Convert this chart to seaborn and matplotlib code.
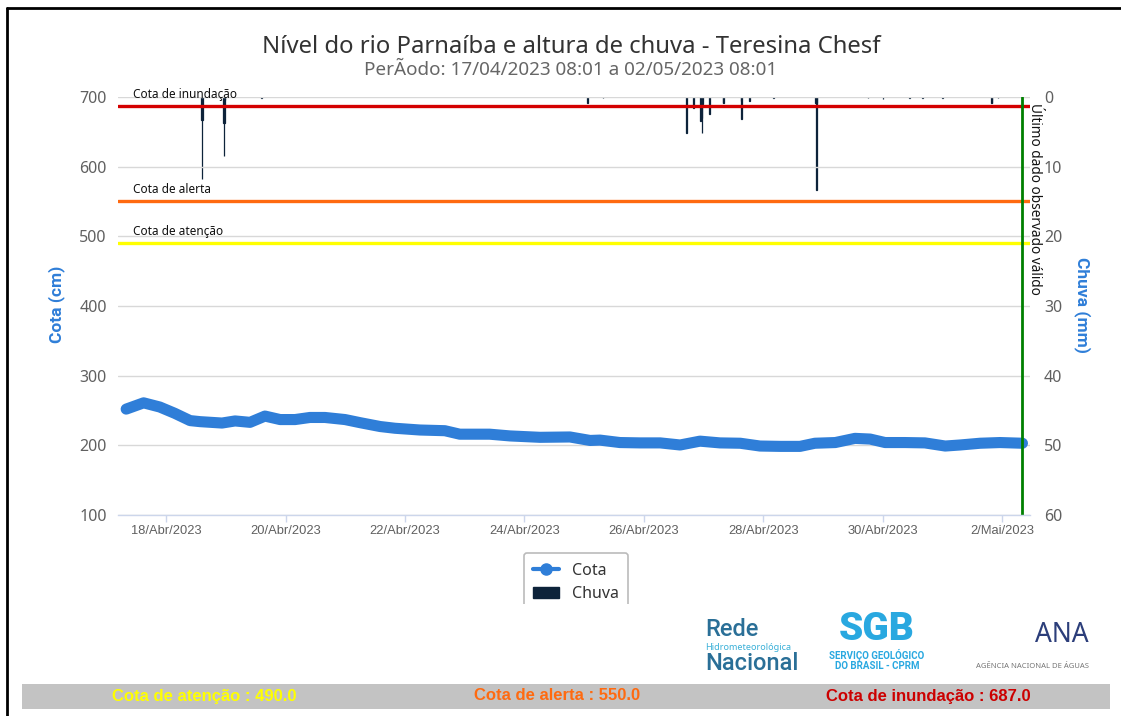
import matplotlib
matplotlib.use("Agg")
import matplotlib.pyplot as plt
from matplotlib.lines import Line2D
from matplotlib.patches import Patch, Rectangle
import pandas as pd
import seaborn as sns

# Cota (cm) ao longo do periodo
cota_times = ["2023-04-17 08:00", "2023-04-17 15:00", "2023-04-17 21:30", "2023-04-18 03:30",
              "2023-04-18 09:40", "2023-04-18 13:40", "2023-04-18 22:30", "2023-04-19 03:45",
              "2023-04-19 09:45", "2023-04-19 15:45", "2023-04-19 21:50", "2023-04-20 03:50",
              "2023-04-20 09:50", "2023-04-20 15:50", "2023-04-20 23:55", "2023-04-21 06:00",
              "2023-04-21 14:00", "2023-04-21 20:00", "2023-04-22 06:00", "2023-04-22 16:00",
              "2023-04-22 22:00", "2023-04-23 10:00", "2023-04-23 18:10", "2023-04-24 06:15",
              "2023-04-24 18:15", "2023-04-25 02:20", "2023-04-25 06:20", "2023-04-25 14:20",
              "2023-04-25 22:20", "2023-04-26 06:30", "2023-04-26 14:30", "2023-04-26 22:30",
              "2023-04-27 06:30", "2023-04-27 14:40", "2023-04-27 22:35", "2023-04-28 06:40",
              "2023-04-28 14:40", "2023-04-28 20:40", "2023-04-29 04:50", "2023-04-29 12:45",
              "2023-04-29 18:50", "2023-04-30 00:50", "2023-04-30 08:50", "2023-04-30 16:50",
              "2023-05-01 01:00", "2023-05-01 07:00", "2023-05-01 15:00", "2023-05-01 23:00",
              "2023-05-02 08:01"]
cota_values = [252, 261, 255, 246, 235.5, 234, 232, 235, 233, 242,
               237, 237, 240, 240, 237, 232.5, 227, 224.5, 222, 221,
               216, 216, 213.5, 211.5, 212, 207, 207.5, 204, 203.5, 203.5,
               200.5, 206, 203.5, 203, 199, 198.5, 198.5, 203, 204, 210,
               209, 204, 204, 203.5, 199, 200.5, 203, 204, 203]

# Chuva (mm)
chuva_times = ["2023-04-18 14:15", "2023-04-18 14:30", "2023-04-18 14:45",
               "2023-04-18 23:00", "2023-04-18 23:15", "2023-04-18 23:30", "2023-04-18 23:45",
               "2023-04-19 14:30", "2023-04-25 01:15", "2023-04-25 07:30",
               "2023-04-26 17:10", "2023-04-26 19:45", "2023-04-26 22:45", "2023-04-26 23:00",
               "2023-04-26 23:15", "2023-04-26 23:30", "2023-04-27 02:15", "2023-04-27 07:45",
               "2023-04-27 08:00", "2023-04-27 15:00", "2023-04-27 15:15", "2023-04-27 18:30",
               "2023-04-28 04:00", "2023-04-28 21:00", "2023-04-28 21:15", "2023-04-28 21:30",
               "2023-04-29 18:00", "2023-04-30 00:00", "2023-04-30 10:45", "2023-04-30 16:00",
               "2023-05-01 00:00", "2023-05-01 19:30", "2023-05-01 19:45", "2023-05-01 22:15"]
chuva_values = [3.3, 11.7, 3.3,
                3.7, 8.4, 3.7, 0.5,
                0.2, 0.9, 0.2,
                5.2, 1.6, 3.5, 3.0,
                5.2, 1.0, 2.5, 0.9,
                0.8, 0.6, 3.1, 0.6,
                0.2, 0.8, 13.3, 0.8,
                0.2, 0.3, 0.2, 0.2,
                0.2, 0.9, 0.9, 0.2]

cotas_ref = [490.0, 550.0, 687.0]
cotas_nome = ["Cota de atenção", "Cota de alerta", "Cota de inundação"]
cotas_cor = ["#ffff00", "#ff6a10", "#d40000"]
texto_cor = ["#ffff00", "#ff6a10", "#cc0000"]

tick_dates = ["2023-04-18", "2023-04-20", "2023-04-22", "2023-04-24",
              "2023-04-26", "2023-04-28", "2023-04-30", "2023-05-02"]
tick_labels = ["18/Abr/2023", "20/Abr/2023", "22/Abr/2023", "24/Abr/2023",
               "26/Abr/2023", "28/Abr/2023", "30/Abr/2023", "2/Mai/2023"]
ultimo_dado = "2023-05-02 08:01"

df_cota = pd.DataFrame({"Data": pd.to_datetime(cota_times), "Cota": cota_values})
df_chuva = pd.DataFrame({"Data": pd.to_datetime(chuva_times), "Chuva": chuva_values})

sns.set_theme(style="white")
plt.rcParams['font.family'] = ['Noto Sans', 'DejaVu Sans']

W, H = 1121, 716
def fx(px):
    return px / W
def fy(py):
    return 1 - py / H

azul = "#2f7ed8"
negrito = ["Roboto", "DejaVu Sans"]
fig = plt.figure(figsize=(11.21, 7.16), dpi=100)
ax = fig.add_axes([fx(118), fy(515), fx(1030) - fx(118), fy(97) - fy(515)])
ax2 = ax.twinx()
ax.set_zorder(ax2.get_zorder() + 1)
ax.patch.set_visible(False)

# chuva (eixo direito invertido)
ax2.bar(df_chuva["Data"], df_chuva["Chuva"], width=0.012, color="#0d233a",
        edgecolor="#0d233a", linewidth=0.9, align="center")
ax2.set_ylim(60, 0)
ax2.set_yticks(range(0, 61, 10))
ax2.tick_params(axis="y", length=0, pad=10, labelsize=11.5, labelcolor="#606060")
ax2.grid(False)

# cota
sns.lineplot(data=df_cota, x="Data", y="Cota", ax=ax, color=azul, linewidth=8,
             solid_capstyle="round", solid_joinstyle="round")
ax.set_ylim(100, 700)
ax.set_yticks(range(100, 701, 100))
ax.set_xlim(pd.Timestamp("2023-04-17 04:43"), pd.Timestamp("2023-05-02 11:03"))
ax.set_xticks(pd.to_datetime(tick_dates))
ax.set_xticklabels(tick_labels, fontfamily=["Liberation Sans", "DejaVu Sans"])
ax.tick_params(axis="x", length=5, width=1, color="#ccd6eb", pad=2, labelsize=9.3,
               labelcolor="#606060", bottom=True)
ax.tick_params(axis="y", length=0, pad=8, labelsize=11.5, labelcolor="#606060")
ax.grid(axis="y", color="#d8d8d8", linewidth=1)
ax.grid(axis="x", visible=False)
ax.set_xlabel("")
ax.set_ylabel("")
for sp in ["top", "left", "right"]:
    ax.spines[sp].set_visible(False)
    ax2.spines[sp].set_visible(False)
ax2.spines["bottom"].set_visible(False)
ax.spines["bottom"].set_color("#ccd6eb")
ax.spines["bottom"].set_linewidth(1)

# cotas de referencia
for val, nome, cor in zip(cotas_ref, cotas_nome, cotas_cor):
    ax.axhline(val, color=cor, linewidth=2.4)
    ax.annotate(nome, xy=(0, val), xycoords=("axes fraction", "data"),
                xytext=(11, 4), textcoords="offset points", ha="left", va="bottom",
                fontsize=8.5, color="#111111", annotation_clip=False)

# ultimo dado valido
t_ult = pd.Timestamp(ultimo_dado)
ax.axvline(t_ult, color="#008000", linewidth=2)
ax.annotate("Último dado observado válido", xy=(t_ult, 692), xycoords="data",
            xytext=(3, 0), textcoords="offset points", rotation=270,
            ha="left", va="top", fontsize=9.8, color="#111111")

# titulos
fig.text(fx(571), fy(47), "Nível do rio Parnaíba e altura de chuva - Teresina Chesf",
         ha="center", va="center", fontsize=17.2, color="#333333")
fig.text(fx(571), fy(70), "PerÃodo: 17/04/2023 08:01 a 02/05/2023 08:01",
         ha="center", va="center", fontsize=13.6, color="#666666")
fig.text(fx(57), fy(304), "Cota (cm)", rotation=90, ha="center", va="center",
         fontsize=12.5, color=azul, fontweight="bold", fontfamily=negrito)
fig.text(fx(1082), fy(305), "Chuva (mm)", rotation=270, ha="center", va="center",
         fontsize=12.5, color=azul, fontweight="bold", fontfamily=negrito)

# legenda
handles = [Line2D([0], [0], color=azul, lw=3, marker="o", markersize=8),
           Patch(facecolor="#0d233a", edgecolor="#0d233a")]
leg = fig.legend(handles, ["Cota", "Chuva"], loc="upper center",
                 bbox_to_anchor=(fx(576), fy(545)), frameon=True, fancybox=True,
                 fontsize=11.5, labelcolor="#333333", handlelength=1.6,
                 borderpad=0.6, labelspacing=0.45, edgecolor="#aaaaaa")
leg.get_frame().set_linewidth(1.2)
fig.patches.append(Rectangle((fx(515), fy(614)), fx(125), fy(604) - fy(614),
                             transform=fig.transFigure, facecolor="white",
                             edgecolor="none", zorder=10))

# logos (texto)
fig.text(fx(705), fy(630), "Rede", fontsize=17, color="#2a6f97", ha="left", va="center",
         fontfamily=negrito, fontweight="medium")
fig.text(fx(705), fy(648), "Hidrometeorológica", fontsize=6.5, color="#3ab0d8",
         ha="left", va="center")
fig.text(fx(705), fy(663), "Nacional", fontsize=17, color="#2a6f97", ha="left", va="center",
         fontfamily=negrito, fontweight="medium")
fig.text(fx(877), fy(630), "SGB", fontsize=28, color="#29a8e0", ha="center", va="center",
         fontweight="black", fontfamily=negrito)
fig.text(fx(877), fy(655), "SERVIÇO GEOLÓGICO", fontsize=7, color="#29a8e0",
         ha="center", va="center", fontweight="bold", fontfamily=negrito)
fig.text(fx(877), fy(666), "DO BRASIL - CPRM", fontsize=7, color="#29a8e0",
         ha="center", va="center", fontweight="bold", fontfamily=negrito)
fig.text(fx(1062), fy(635), "ANA", fontsize=19, color="#2c3e7a", ha="center", va="center")
fig.text(fx(1033), fy(666), "AGÊNCIA NACIONAL DE ÁGUAS", fontsize=5.5, color="#777777",
         ha="center", va="center")

# faixa inferior
fig.patches.append(Rectangle((fx(22), fy(709)), fx(1110) - fx(22), fy(684) - fy(709),
                             transform=fig.transFigure, facecolor="#c3c3c3",
                             edgecolor="none", zorder=1))
for px, val, nome, cor in zip([204, 557, 928], cotas_ref, cotas_nome, texto_cor):
    fig.text(fx(px), fy(696), f"{nome} : {val:.1f}", ha="center", va="center",
             fontsize=12, color=cor, fontweight="bold",
             fontfamily=["Liberation Sans Narrow", "Liberation Sans", "DejaVu Sans"], zorder=2)

# borda
fig.lines.append(Line2D([fx(7), 1], [fy(8), fy(8)], transform=fig.transFigure,
                        color="black", linewidth=2))
fig.lines.append(Line2D([fx(7), fx(7)], [fy(8), 0], transform=fig.transFigure,
                        color="black", linewidth=2))

fig.savefig("out.png", dpi=100)
